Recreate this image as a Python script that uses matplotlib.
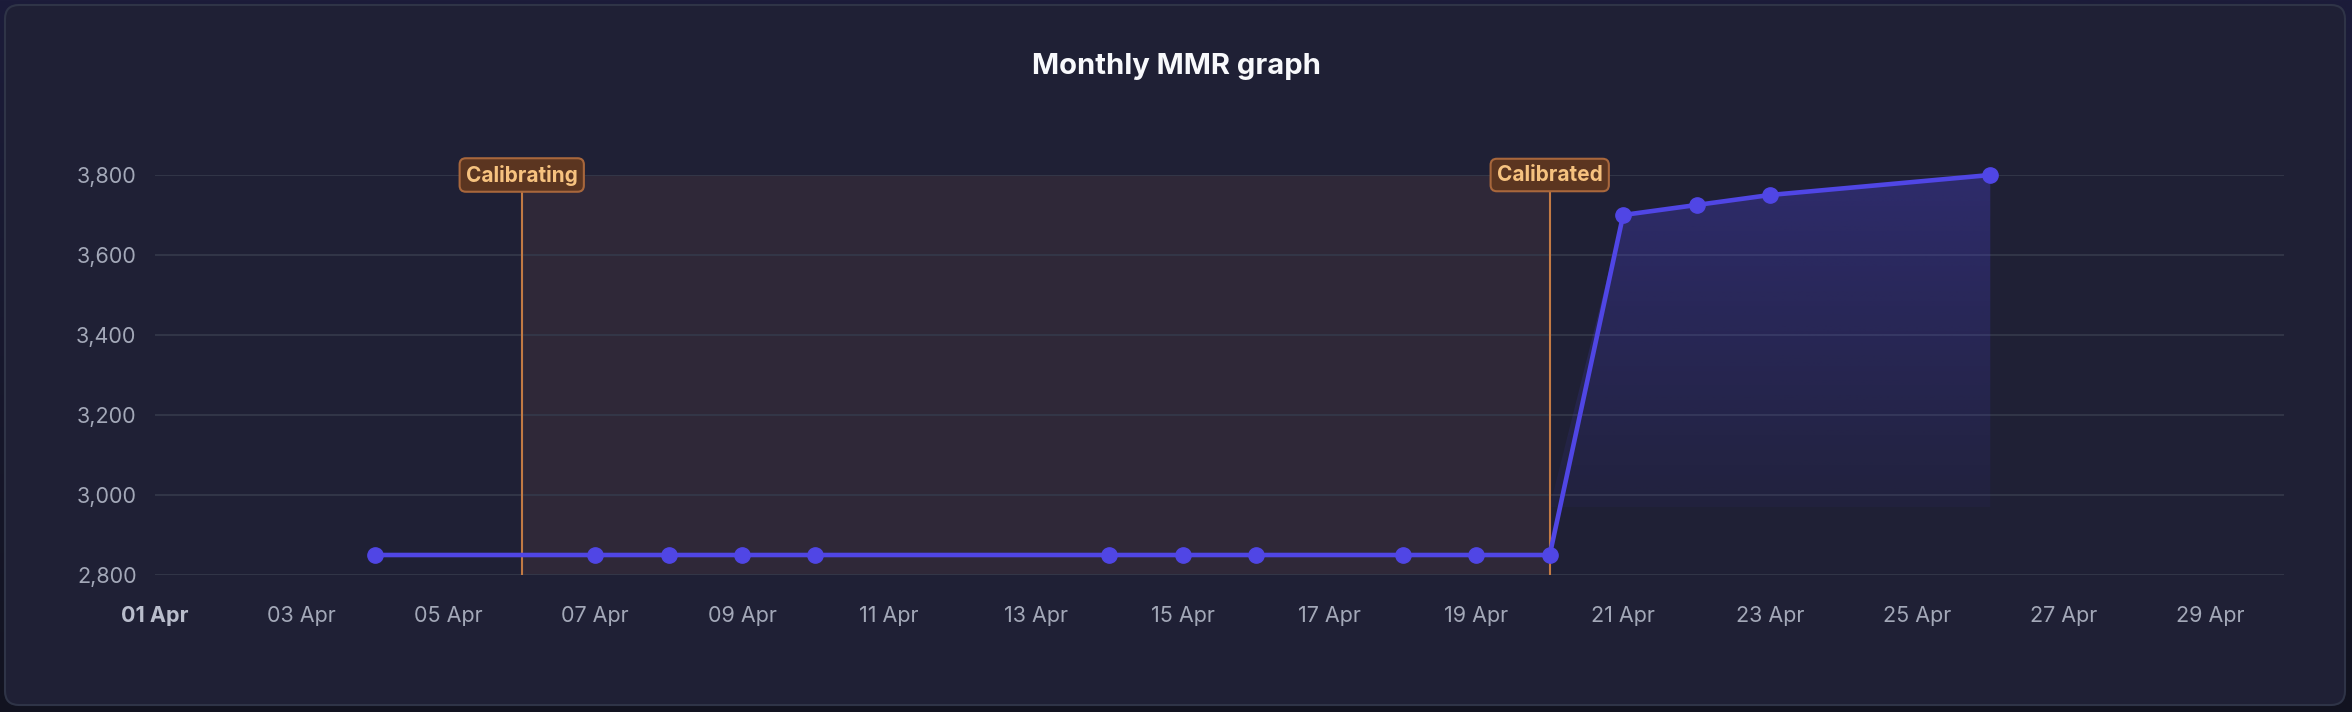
import matplotlib
matplotlib.use("Agg")
import matplotlib.pyplot as plt
import matplotlib.dates as mdates
from matplotlib.patches import FancyBboxPatch
from matplotlib.ticker import FuncFormatter, FixedLocator
from matplotlib.colors import LinearSegmentedColormap, to_rgb
import numpy as np
import datetime as dt

plt.rcParams['font.family'] = ['Inter', 'DejaVu Sans']

# ---- data ----
title = "Monthly MMR graph"
day_numbers = [4, 7, 8, 9, 10, 14, 15, 16, 18, 19, 20, 21, 22, 23, 26]
mmr_values = [2850, 2850, 2850, 2850, 2850, 2850, 2850, 2850, 2850, 2850, 2850,
              3700, 3725, 3750, 3800]
calib_start_day = 6
calib_end_day = 20
calib_labels = ["Calibrating", "Calibrated"]
y_ticks = [2800, 3000, 3200, 3400, 3600, 3800]
x_tick_days = list(range(1, 30, 2))
year, month = 2024, 4

dates = [dt.datetime(year, month, d) for d in day_numbers]
xnum = mdates.date2num(dates)
vals = np.array(mmr_values, dtype=float)

W, H = 2352, 712
fig = plt.figure(figsize=(W / 100, H / 100), dpi=100)

# background
bg = fig.add_axes([0, 0, 1, 1])
bg.set_xlim(0, W)
bg.set_ylim(H, 0)
bg.axis('off')
grad = np.linspace(0, 1, 256).reshape(-1, 1)
bgcmap = LinearSegmentedColormap.from_list('bg', ['#1c1c3a', '#121320'])
bg.imshow(grad, cmap=bgcmap, aspect='auto', extent=[0, W, H, 0], zorder=0)
card = FancyBboxPatch((5, 5), W - 12, H - 12,
                      boxstyle="round,pad=0,rounding_size=14",
                      fc='#1f2035', ec='#2f3447', lw=1.5, zorder=1)
bg.add_patch(card)
bg.text(W / 2, 66, title, ha='center', va='center', fontsize=21,
        weight='bold', color='#f8f9fc', zorder=2)

# main axes
left_px, right_px, top_px, bot_px = 154.6, 2284, 175, 575
ax = fig.add_axes([left_px / W, 1 - bot_px / H, (right_px - left_px) / W,
                   (bot_px - top_px) / H])
ax.patch.set_alpha(0)
x0 = mdates.date2num(dt.datetime(year, month, 1))
x1 = mdates.date2num(dt.datetime(year, month, 30))

for s in ax.spines.values():
    s.set_visible(False)
ax.yaxis.set_major_locator(FixedLocator(y_ticks))
ax.yaxis.set_major_formatter(FuncFormatter(lambda v, p: f"{int(v):,}"))
xt = [mdates.date2num(dt.datetime(year, month, d)) for d in x_tick_days]
ax.xaxis.set_major_locator(FixedLocator(xt))
ax.xaxis.set_major_formatter(mdates.DateFormatter('%d %b'))
ax.tick_params(length=0, labelsize=15.5, labelcolor='#a3a8b8')
ax.tick_params(axis='y', pad=13)
ax.tick_params(axis='x', pad=22)
ax.grid(axis='y', color='#343849', lw=1.3, zorder=0)
ax.set_axisbelow(True)

cs = mdates.date2num(dt.datetime(year, month, calib_start_day))
ce = mdates.date2num(dt.datetime(year, month, calib_end_day))
ax.axvspan(cs, ce, color='#2f2838', zorder=0.5, lw=0)

# gradient area under the line after calibration
base = 2970
mask = xnum >= ce
fx = xnum[mask]
fy = vals[mask]
poly = ax.fill_between(fx, np.maximum(fy, base), base, color='none', lw=0)
path = poly.get_paths()[0]
g = np.linspace(1, 0, 256).reshape(-1, 1)
rgba = np.zeros((256, 1, 4))
rgba[..., :3] = to_rgb('#5046e5')
rgba[..., 3] = 0.26 * g + 0.05
im = ax.imshow(rgba, aspect='auto', extent=[fx.min(), fx.max(), base, 3800],
               zorder=1, origin='upper')
im.set_clip_path(path, transform=ax.transData)
ax.set_xlim(x0, x1)
ax.set_ylim(y_ticks[0], y_ticks[-1])

for xv in (cs, ce):
    ax.axvline(xv, color='#c27a44', lw=1.5, zorder=2)
for xv, lab in zip((cs, ce), calib_labels):
    ax.text(xv, 3800, lab, ha='center', va='center', fontsize=15,
            weight='bold', color='#f6c27f', zorder=6, clip_on=False,
            bbox=dict(boxstyle='round,pad=0.3,rounding_size=0.3',
                      fc='#5b3520', ec='#a8673c', lw=1.5))

ax.plot(xnum, vals, color='#5046e5', lw=3.3, marker='o', ms=11,
        zorder=4, clip_on=False)

labs = ax.xaxis.get_ticklabels()
labs[0].set_fontweight('bold')
labs[0].set_color('#b9bdcc')

fig.savefig('out.png', dpi=100, facecolor='#161727')
